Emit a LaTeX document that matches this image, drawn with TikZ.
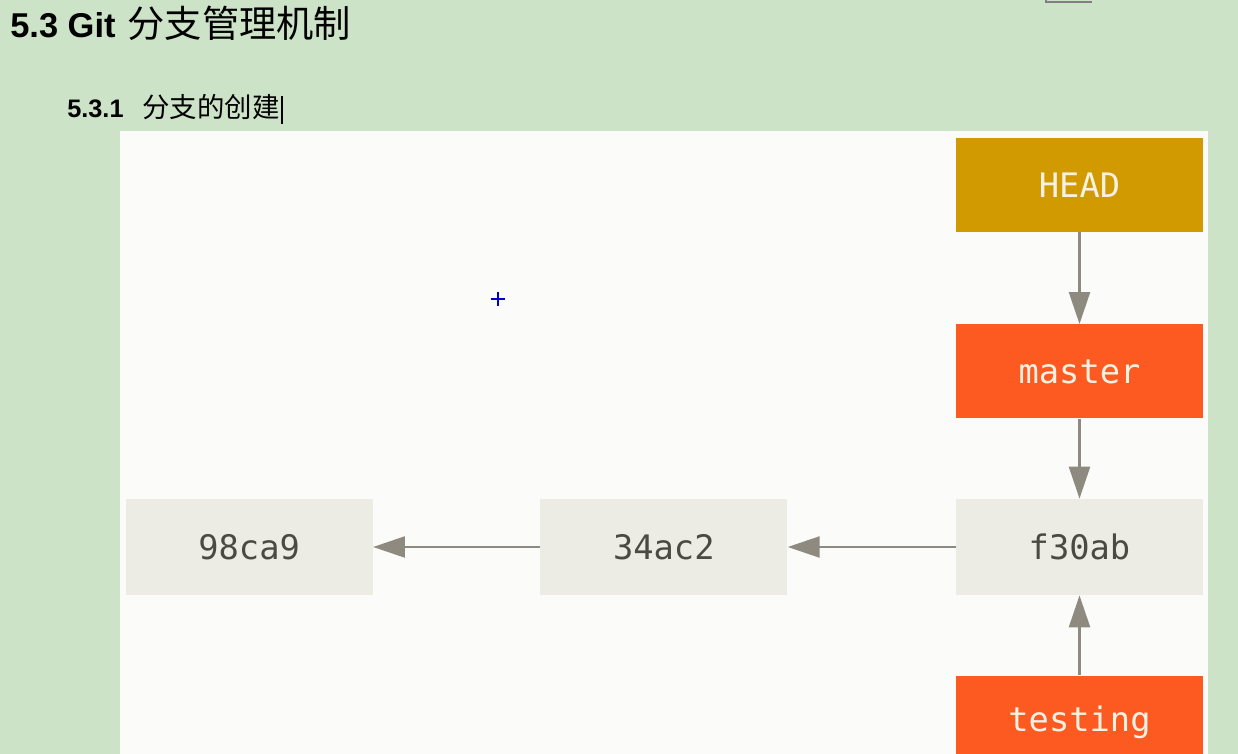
\documentclass[tikz,border=0pt]{standalone}
\usepackage{fontspec}
\setmainfont{Liberation Sans}
\setmonofont{DejaVu Sans Mono}
\newfontfamily\cjk{Noto Sans CJK SC}
\usetikzlibrary{positioning,arrows.meta}

\definecolor{pagegreen}{HTML}{CCE3C8}
\definecolor{panelwhite}{HTML}{FBFCFA}
\definecolor{headgold}{HTML}{D19A00}
\definecolor{branchred}{HTML}{FC5A21}
\definecolor{commitgray}{HTML}{ECECE5}
\definecolor{commitink}{HTML}{4A4A44}
\definecolor{arrowgray}{HTML}{8E8A80}
\definecolor{labelcream}{HTML}{F6F1E2}

\begin{document}
\begin{tikzpicture}[
    x=0.025cm, y=-0.025cm,
    box/.style={
        rectangle,
        minimum width=6.175cm,
        minimum height=2.4cm,
        inner sep=0pt,
        font=\ttfamily\fontsize{24}{28}\selectfont
    },
    commit/.style={box, fill=commitgray, text=commitink},
    branch/.style={box, fill=branchred, text=labelcream, minimum height=2.35cm},
    headref/.style={box, fill=headgold, text=labelcream, minimum height=2.35cm},
    arrow/.style={
        -{Triangle[length=0.8cm,width=0.52cm]},
        line width=2.1pt,
        arrowgray
    }
]
\useasboundingbox (0,0) rectangle (1238,754);
\clip (0,0) rectangle (1238,754);

% Page and panel
\fill[pagegreen] (0,0) rectangle (1238,754);
\fill[panelwhite] (120,131) rectangle (1208,760);
\draw[gray, line width=0.8pt] (1046,-5) |- (1092,2);

% Headings
\node[anchor=base west, inner sep=0pt, font=\fontsize{24.5}{28}\selectfont] (title) at (10,38)
    {\textbf{5.3 Git}\hspace{0.35em}{\cjk\fontsize{26.5}{28}\selectfont 分支管理机制}};
\node[anchor=base west, inner sep=0pt, font=\fontsize{18}{22}\selectfont] (subtitle) at (67,118)
    {\textbf{5.3.1}\hspace{0.75em}{\cjk\fontsize{19.5}{22}\selectfont 分支的创建}};
\draw[black, line width=1.2pt] (282,96) -- (282,124);

% Commits
\node[commit] (f30ab) at (1079.5,547) {f30ab};
\node[commit, left=4.2cm of f30ab] (c34ac2) {34ac2};
\node[commit, left=4.175cm of c34ac2] (c98ca9) {98ca9};

% Refs
\node[branch, above=2cm of f30ab] (master) {master};
\node[headref, above=2.3cm of master] (head) {HEAD};
\node[branch, below=2cm of f30ab] (testing) {testing};

% Arrows
\draw[arrow] (head.south) -- (master.north);
\draw[arrow] (master.south) -- (f30ab.north);
\draw[arrow] (testing.north) -- (f30ab.south);
\draw[arrow] (f30ab.west) -- (c34ac2.east);
\draw[arrow] (c34ac2.west) -- (c98ca9.east);

% Cursor
\draw[blue!80!black, line width=1.5pt] (491,299) -- (505,299) (498,292) -- (498,306);

\end{tikzpicture}
\end{document}
